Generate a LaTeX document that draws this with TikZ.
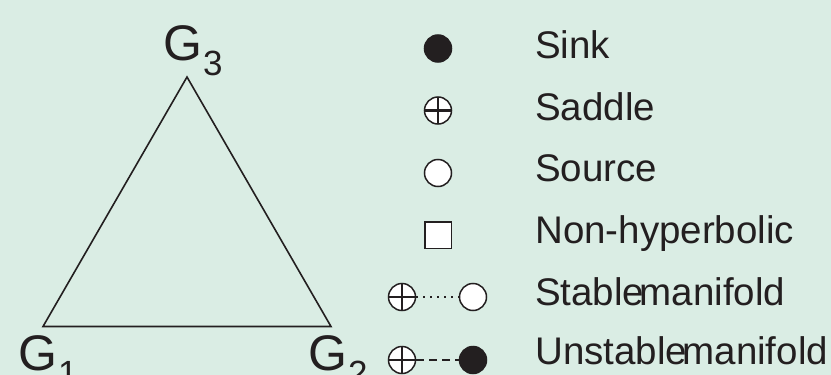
\documentclass[tikz,border=0pt]{standalone}
\usepackage{fontspec}
\setmainfont{Liberation Sans}
\definecolor{bgmint}{RGB}{218,237,228}
\definecolor{ink}{RGB}{35,31,32}
\newcommand\Glabel[1]{G\kern1pt\raisebox{-15pt}{\fontsize{35}{40}\selectfont #1}}
\tikzset{
  lbl/.style={anchor=base west, inner sep=0pt, text=ink, font=\fontsize{38.5}{46}\selectfont},
  glbl/.style={anchor=base west, inner sep=0pt, text=ink, font=\fontsize{50}{60}\selectfont},
  sinkmark/.style={circle, draw=ink, fill=ink, line width=1.5pt, minimum size=27pt, inner sep=0pt},
  sourcemark/.style={circle, draw=ink, fill=white, line width=1.5pt, minimum size=27pt, inner sep=0pt},
  saddlemark/.style={circle, draw=ink, fill=white, line width=1.5pt, minimum size=27pt, inner sep=0pt,
    path picture={\draw[ink, line width=2.6pt] (path picture bounding box.north) -- (path picture bounding box.south)
      (path picture bounding box.west) -- (path picture bounding box.east);}},
  nhmark/.style={rectangle, draw=ink, fill=white, line width=1.5pt, minimum size=26.5pt, inner sep=0pt},
  stablelink/.style={draw=ink, line width=1.5pt, dash pattern=on 2pt off 5pt},
  unstablelink/.style={draw=ink, line width=1.5pt, dash pattern=on 8pt off 5pt},
  edge/.style={draw=ink, line width=1.6pt, line join=miter}
}
\begin{document}
\begin{tikzpicture}[x=1pt, y=-1pt]
  % canvas
  \fill[bgmint] (0,0) rectangle (831,375);
  \useasboundingbox (0,0) rectangle (831,375);

  % simplex
  \coordinate (g1) at (43,326.5);
  \coordinate (g2) at (331,326.5);
  \coordinate (g3) at (187,77);
  \draw[edge] (g1) -- (g2) -- (g3) -- cycle;
  \node[glbl] (t3) at (163,60) {\Glabel{3}};
  \node[glbl] (t1) at (18,370) {\Glabel{1}};
  \node[glbl] (t2) at (308,370) {\Glabel{2}};

  % legend symbols
  \node[sinkmark]   (sink)   at (438,48.5) {};
  \node[saddlemark] (saddle) at (438,110.5) {};
  \node[sourcemark] (source) at (438,173) {};
  \node[nhmark]     (nonhyp) at (438,235) {};

  \node[saddlemark] (ssad) at (402,297) {};
  \node[sourcemark] (ssrc) at (473,297) {};
  \draw[stablelink] (ssad) -- (ssrc);

  \node[saddlemark] (usad) at (402,360) {};
  \node[sinkmark]   (usnk) at (473,360) {};
  \draw[unstablelink] (usad) -- (usnk);

  % legend texts
  \node[lbl] (lsink)   at (535,58)  {Sink};
  \node[lbl] (lsaddle) at (535,120) {Saddle};
  \node[lbl] (lsource) at (535,181) {Source};
  \node[lbl] (lnonhyp) at (535,243) {Non-hyperbolic};
  \node[lbl] (lstab)   at (535,305) {Stable\kern-.12em manifold};
  \node[lbl] (lunstab) at (535,364) {Unstable\kern-.12em manifold};
\end{tikzpicture}
\end{document}
